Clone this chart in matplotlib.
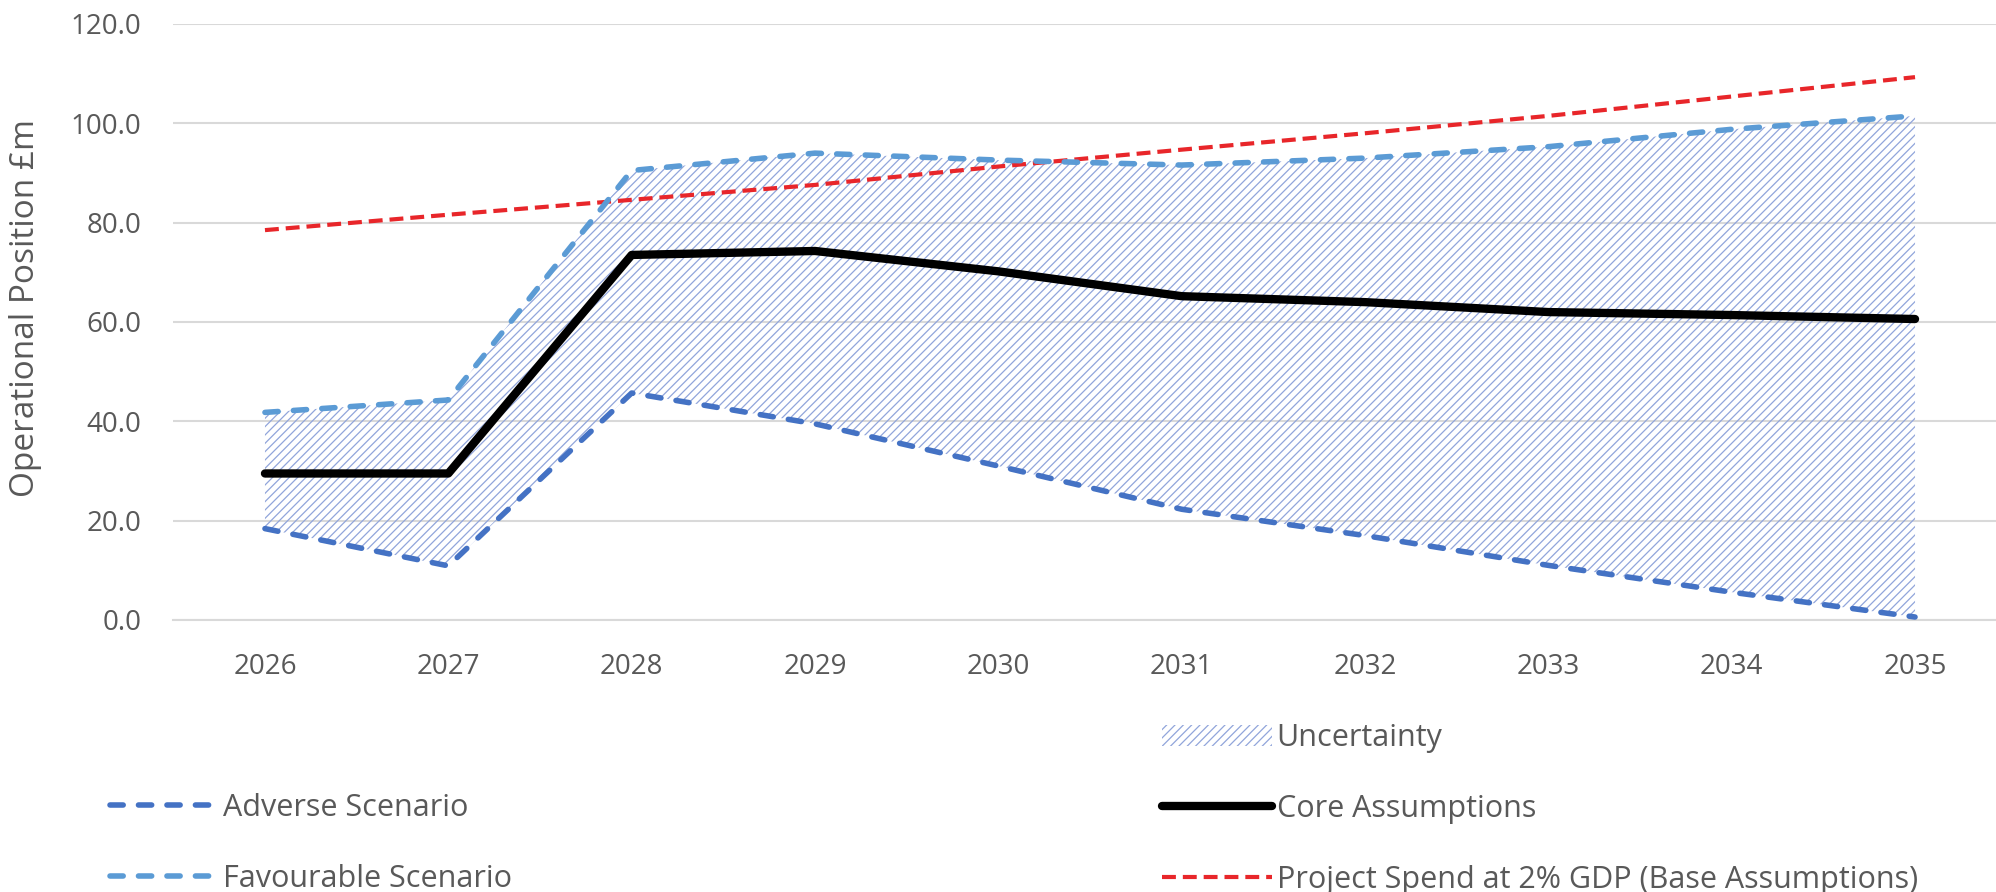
"""Operational position scenarios with the uncertainty band, 2026-2035."""

import matplotlib.pyplot as plt
from matplotlib.lines import Line2D
from matplotlib.patches import Patch

years = ["2026", "2027", "2028", "2029", "2030", "2031", "2032", "2033", "2034", "2035"]
adverse = [18.4, 10.9, 45.7, 39.5, 31.0, 22.3, 17.0, 11.0, 5.6, 0.6]
favourable = [41.8, 44.3, 90.5, 94.0, 92.6, 91.6, 93.0, 95.3, 98.8, 101.5]
core = [29.5, 29.5, 73.5, 74.3, 70.2, 65.2, 64.0, 62.0, 61.4, 60.6]
spend_2pct_gdp = [78.5, 81.6, 84.6, 87.6, 91.3, 94.7, 98.0, 101.5, 105.4, 109.3]
y_ticks = [0, 20, 40, 60, 80, 100, 120]

TEXT = "#595959"
GRID = "#D9D9D9"
ADVERSE = "#4472C4"
FAVOURABLE = "#5B9BD5"
SPEND = "#E8262A"
HATCH = "#91A5DB"

plt.rcParams["font.family"] = ["Open Sans", "DejaVu Sans"]
plt.rcParams["lines.scale_dashes"] = False
plt.rcParams["hatch.linewidth"] = 0.9

W, H = 1996, 892
fig = plt.figure(figsize=(W / 100, H / 100), dpi=100)
ax = fig.add_axes([173.3 / W, 1 - 620 / H, 1833.4 / W, 596 / H])

x = list(range(len(years)))

ax.fill_between(x, adverse, favourable, facecolor="none", edgecolor=HATCH,
                hatch="////", linewidth=0, zorder=1)

blue_dash = dict(linewidth=4.0, dashes=(9.5, 11.0), dash_capstyle="round",
                 solid_joinstyle="round")
red_dash = dict(linewidth=3.0, dashes=(10, 5), dash_capstyle="butt")
core_style = dict(linewidth=6.0, solid_capstyle="round", solid_joinstyle="round")

ax.plot(x, spend_2pct_gdp, color=SPEND, zorder=3, **red_dash)
ax.plot(x, adverse, color=ADVERSE, zorder=4, **blue_dash)
ax.plot(x, favourable, color=FAVOURABLE, zorder=4, **blue_dash)
ax.plot(x, core, color="black", zorder=5, **core_style)

ax.set_xlim(-0.5, len(years) - 0.5)
ax.set_ylim(0, 120)
ax.set_yticks(y_ticks)
ax.set_yticklabels([f"{v:.1f}" for v in y_ticks])
ax.set_xticks(x)
ax.set_xticklabels(years)
ax.tick_params(axis="y", length=0, pad=23, labelsize=20, labelcolor=TEXT)
ax.tick_params(axis="x", length=0, pad=24, labelsize=20, labelcolor=TEXT)

ax.grid(axis="y", color=GRID, linewidth=1.5)
ax.set_axisbelow(True)
for side in ("top", "right", "left"):
    ax.spines[side].set_visible(False)
ax.spines["bottom"].set_color(GRID)
ax.spines["bottom"].set_linewidth(1.5)
ax.spines["bottom"].set_zorder(0.5)

fig.text(26 / W, 1 - 308 / H, "Operational Position £m", rotation=90,
         ha="center", va="center", fontsize=24, color=TEXT)

legend_kw = dict(frameon=False, fontsize=22, labelcolor=TEXT, handlelength=3.6,
                 labelspacing=1.34, borderpad=0, borderaxespad=0, loc="upper left")

left_handles = [
    Line2D([], [], color=ADVERSE, **blue_dash),
    Line2D([], [], color=FAVOURABLE, **blue_dash),
]
fig.legend(left_handles, ["Adverse Scenario", "Favourable Scenario"],
           bbox_to_anchor=(110 / W, 1 - 793 / H), handletextpad=0.1, **legend_kw)

right_handles = [
    Patch(facecolor="none", edgecolor=HATCH, hatch="////", linewidth=0),
    Line2D([], [], color="black", **core_style),
    Line2D([], [], color=SPEND, **red_dash),
]
fig.legend(right_handles, ["Uncertainty", "Core Assumptions",
                           "Project Spend at 2% GDP (Base Assumptions)"],
           bbox_to_anchor=(1162 / W, 1 - 723 / H), handletextpad=0.15, **legend_kw)

fig.savefig("out.png", dpi=100)
